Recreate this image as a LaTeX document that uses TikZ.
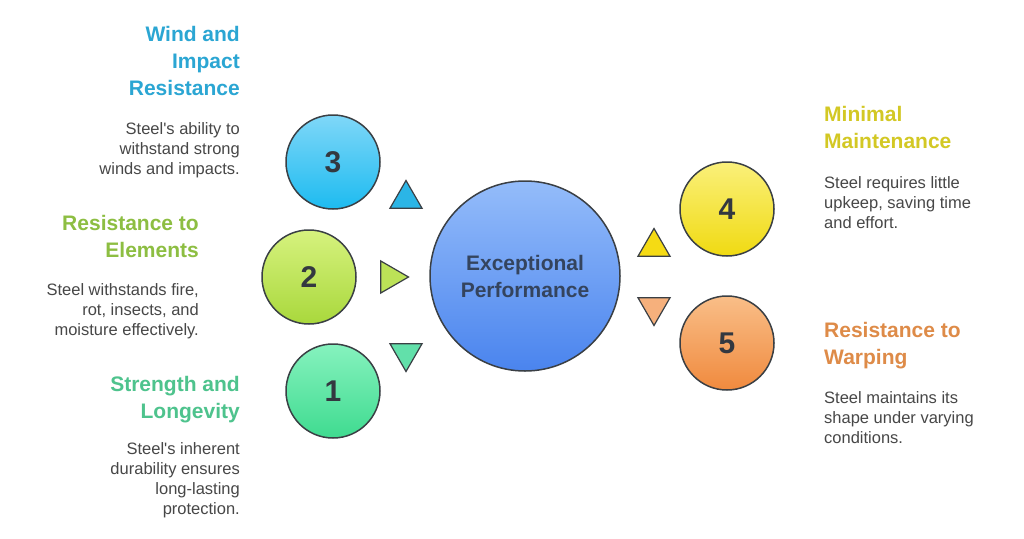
\documentclass[tikz,border=0pt]{standalone}
\usepackage{fontspec}
\setmainfont{Liberation Sans}
\usetikzlibrary{shapes.geometric}

\definecolor{edgegray}{HTML}{3A3F44}
\definecolor{bodygray}{HTML}{474747}
\definecolor{numgray}{HTML}{333840}
\definecolor{centertext}{HTML}{34445E}
\definecolor{windblue}{HTML}{2BA6D3}
\definecolor{elemgreen}{HTML}{8DBE42}
\definecolor{longteal}{HTML}{4EC38D}
\definecolor{mainyellow}{HTML}{D3C824}
\definecolor{warporange}{HTML}{DE8B48}
\definecolor{hubtop}{HTML}{94BCFA}
\definecolor{hubbot}{HTML}{4A84EE}
% circle shades
\definecolor{blueA}{HTML}{7FD7F8}   \definecolor{blueB}{HTML}{1DBBF0}
\definecolor{limeA}{HTML}{D6F27E}   \definecolor{limeB}{HTML}{A9D83C}
\definecolor{mintA}{HTML}{86F2BE}   \definecolor{mintB}{HTML}{3FDB90}
\definecolor{yellA}{HTML}{FAF07A}   \definecolor{yellB}{HTML}{F0DA12}
\definecolor{orngA}{HTML}{F9BE88}   \definecolor{orngB}{HTML}{F08A3E}
% triangle fills
\definecolor{blueT}{HTML}{2BB5E6}
\definecolor{limeT}{HTML}{BCE257}
\definecolor{mintT}{HTML}{62E0AA}
\definecolor{yellT}{HTML}{F5DB14}
\definecolor{orngT}{HTML}{F6B07C}

\newcommand{\apos}{\textquotesingle}

\tikzset{
  bubble/.style={circle, draw=edgegray, line width=1.5pt, minimum size=94pt,
    inner sep=0pt, font=\fontsize{30}{30}\selectfont\bfseries, text=numgray},
  hub/.style={circle, draw=edgegray, line width=1.5pt, minimum size=190pt,
    inner sep=0pt, align=center, font=\fontsize{21}{27}\selectfont\bfseries,
    text=centertext, top color=hubtop, bottom color=hubbot},
  pointer/.style={regular polygon, regular polygon sides=3, draw=edgegray,
    line width=1.2pt, minimum size=37pt, inner sep=0pt},
  heading/.style={inner sep=0pt, font=\fontsize{21}{27}\selectfont\bfseries},
  blurb/.style={inner sep=0pt, text=bodygray, font=\fontsize{16.5}{20}\selectfont},
}

\begin{document}
\begin{tikzpicture}
\begin{scope}[x=1pt, y=-1pt]
\useasboundingbox (0,0) rectangle (1024,538);
\fill[white] (0,0) rectangle (1024,538);

% centre
\node[hub] (perf) at (525,276) {Exceptional\\Performance};

% numbered circles
\node[bubble, top color=blueA, bottom color=blueB] (c3) at (333,162) {3};
\node[bubble, top color=limeA, bottom color=limeB] (c2) at (309,277) {2};
\node[bubble, top color=mintA, bottom color=mintB] (c1) at (333,391) {1};
\node[bubble, top color=yellA, bottom color=yellB] (c4) at (727,209) {4};
\node[bubble, top color=orngA, bottom color=orngB] (c5) at (727,343) {5};

% triangles
\node[pointer, fill=blueT] (t3) at (406,199) {};
\node[pointer, fill=limeT, rotate=-90] (t2) at (390,277) {};
\node[pointer, fill=mintT, rotate=180] (t1) at (406,353) {};
\node[pointer, fill=yellT] (t4) at (654,247) {};
\node[pointer, fill=orngT, rotate=180] (t5) at (654,307) {};

% left texts
\node[heading, text=windblue, align=right, anchor=north east] (h3) at (240,26)
  {Wind and\\Impact\\Resistance};
\node[blurb, align=right, anchor=north east] (b3) at (240,122)
  {Steel\apos s ability to\\withstand strong\\winds and impacts.};
\node[heading, text=elemgreen, align=right, anchor=north east] (h2) at (199,215)
  {Resistance to\\Elements};
\node[blurb, align=right, anchor=north east] (b2) at (199,283)
  {Steel withstands fire,\\rot, insects, and\\moisture effectively.};
\node[heading, text=longteal, align=right, anchor=north east] (h1) at (240,376)
  {Strength and\\Longevity};
\node[blurb, align=right, anchor=north east] (b1) at (240,442)
  {Steel\apos s inherent\\durability ensures\\long-lasting\\protection.};

% right texts
\node[heading, text=mainyellow, align=left, anchor=north west] (h4) at (824,106)
  {Minimal\\Maintenance};
\node[blurb, align=left, anchor=north west] (b4) at (824,176)
  {Steel requires little\\upkeep, saving time\\and effort.};
\node[heading, text=warporange, align=left, anchor=north west] (h5) at (824,322)
  {Resistance to\\Warping};
\node[blurb, align=left, anchor=north west] (b5) at (824,391)
  {Steel maintains its\\shape under varying\\conditions.};

\end{scope}
\end{tikzpicture}
\end{document}
